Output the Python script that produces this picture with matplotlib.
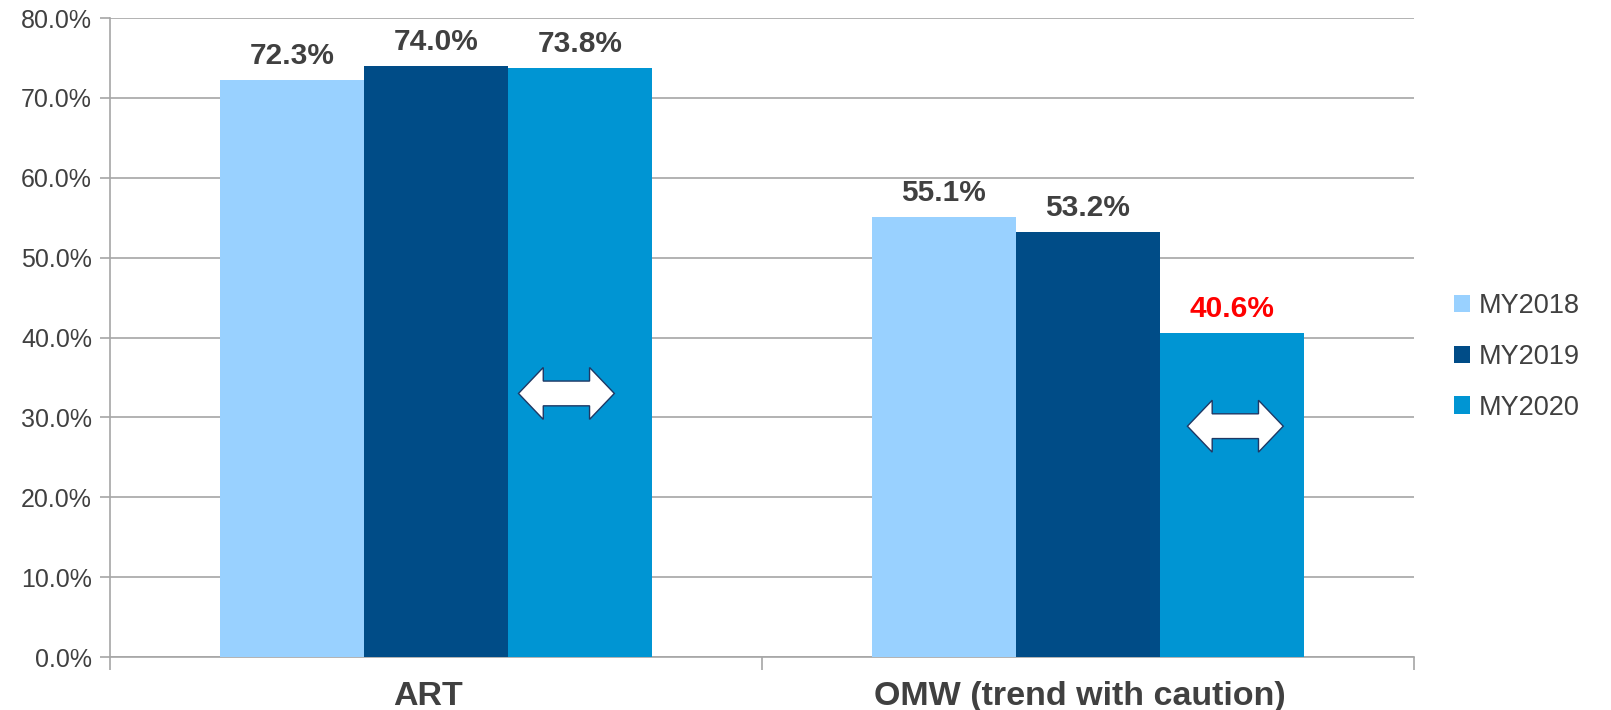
import numpy as np
import matplotlib
matplotlib.use('Agg')
import matplotlib.pyplot as plt
import matplotlib.transforms as mtransforms
from matplotlib.patches import Polygon

categories = ['ART', 'OMW (trend with caution)']
series = ['MY2018', 'MY2019', 'MY2020']
my2018 = [72.3, 55.1]
my2019 = [74.0, 53.2]
my2020 = [73.8, 40.6]
label_colors = [['#404040', '#404040'], ['#404040', '#404040'], ['#404040', '#FF0000']]
# double arrows drawn on the MY2020 bars (centre x, centre y in %)
arrow_x = [0.20, 1.226]
arrow_y = [33.0, 28.9]

colors = ['#99D1FF', '#004C87', '#0095D3']
text_color = '#404040'

plt.rcParams['font.family'] = ['Liberation Sans', 'DejaVu Sans']

fig = plt.figure(figsize=(16.11, 7.10), dpi=100)
ax = fig.add_axes([0.0683, 0.0746, 0.8094, 0.9000])

x = np.arange(len(categories))
width = 0.221
offsets = [-width, 0, width]

for i, (name, vals) in enumerate(zip(series, [my2018, my2019, my2020])):
    bars = ax.bar(x + offsets[i], vals, width, color=colors[i], label=name, zorder=3)
    for j, b in enumerate(bars):
        ax.annotate('%.1f%%' % vals[j], (b.get_x() + b.get_width() / 2, b.get_height()),
                    xytext=(0, 7), textcoords='offset points', ha='center', va='bottom',
                    fontsize=21.5, fontweight='bold', color=label_colors[i][j], zorder=5)

# white double-headed arrows
hw, hl, hh, sh = 0.0735, 0.038, 3.25, 1.55
for xc, yc in zip(arrow_x, arrow_y):
    pts = [(-hw, 0), (-hw + hl, hh), (-hw + hl, sh), (hw - hl, sh), (hw - hl, hh),
           (hw, 0), (hw - hl, -hh), (hw - hl, -sh), (-hw + hl, -sh), (-hw + hl, -hh)]
    pts = [(xc + px, yc + py) for px, py in pts]
    ax.add_patch(Polygon(pts, closed=True, facecolor='white', edgecolor='#1F3864',
                         linewidth=1.0, zorder=6))

ax.set_ylim(0, 80)
ax.set_xlim(-0.5, 1.5)
ax.set_yticks(np.arange(0, 81, 10))
ax.set_yticklabels(['%.1f%%' % v for v in np.arange(0, 81, 10)])
ax.grid(True, axis='y', color='#A6A6A6', linewidth=1.2, zorder=0)

ax.set_xticks(x)
ax.set_xticklabels(categories, fontsize=24.5, fontweight='bold', color=text_color)
ax.set_xticks([-0.5, 0.5, 1.5], minor=True)
ax.tick_params(axis='x', which='major', length=0, pad=17)
ax.tick_params(axis='x', which='minor', length=9, width=1.2, color='#A6A6A6')
ax.tick_params(axis='y', length=7, width=1.2, color='#A6A6A6', labelsize=18,
               labelcolor=text_color, pad=6)
shift = mtransforms.ScaledTranslation(-8 / 100, 0, fig.dpi_scale_trans)
for lbl in ax.get_xticklabels():
    lbl.set_transform(lbl.get_transform() + shift)

for s in ['top', 'right']:
    ax.spines[s].set_visible(False)
for s in ['left', 'bottom']:
    ax.spines[s].set_color('#A6A6A6')
    ax.spines[s].set_linewidth(1.2)

leg = ax.legend(loc='center left', bbox_to_anchor=(1.012, 0.47), frameon=False,
                fontsize=19.5, handlelength=0.6, handleheight=0.6, handletextpad=0.3,
                labelspacing=0.92)
for t in leg.get_texts():
    t.set_color(text_color)

fig.savefig('out.png', dpi=100)
